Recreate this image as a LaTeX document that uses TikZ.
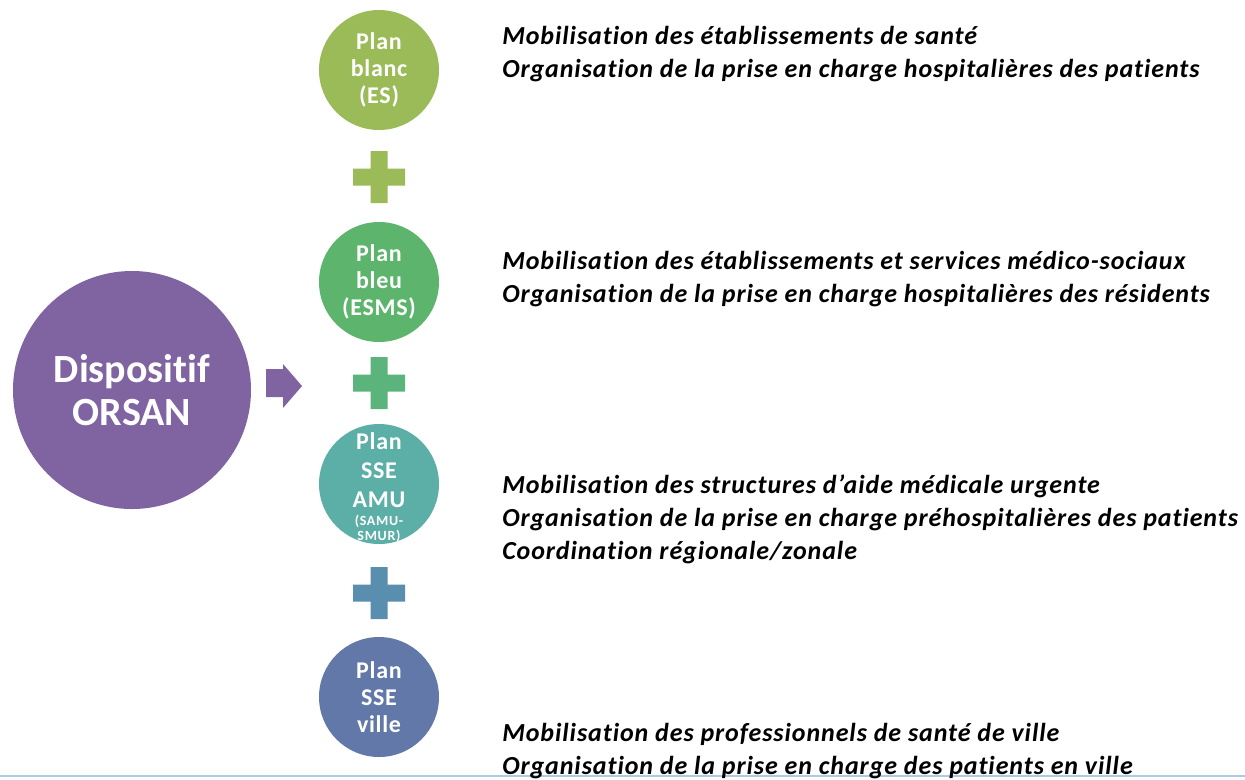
\documentclass[tikz,border=0pt]{standalone}
\usepackage{fontspec}
\setmainfont[Ligatures={NoCommon}]{Carlito}
\newfontfamily\descfont[Ligatures={NoCommon},LetterSpace=3.5]{Carlito}
\newfontfamily\circfont[Ligatures={NoCommon},LetterSpace=3]{Carlito}
\newfontfamily\smallfont[Ligatures={NoCommon},LetterSpace=5]{Carlito}
\definecolor{cblanc}{HTML}{9BBB59}
\definecolor{cbleu}{HTML}{5DB46C}
\definecolor{camu}{HTML}{5CAFA6}
\definecolor{cville}{HTML}{6178A9}
\definecolor{corsan}{HTML}{8064A2}
\definecolor{cplusa}{HTML}{9BBB59}
\definecolor{cplusb}{HTML}{5AB47C}
\definecolor{cplusc}{HTML}{5A8EAE}
\definecolor{cline}{HTML}{AFC8E4}
\tikzset{
  plan/.style={circle,minimum size=90pt,inner sep=0pt,text=white,align=center,
    font=\circfont\fontsize{18}{20.25}\selectfont\bfseries},
  desc/.style={anchor=base west,align=left,inner sep=0pt,
    font=\descfont\fontsize{19.5}{24.75}\selectfont\bfseries\itshape},
}
\newcommand{\plusat}[3]{%
  \fill[#3] (#1-26,#2-8.5) -- (#1-8.5,#2-8.5) -- (#1-8.5,#2-26) -- (#1+8.5,#2-26)
   -- (#1+8.5,#2-8.5) -- (#1+26,#2-8.5) -- (#1+26,#2+8.5) -- (#1+8.5,#2+8.5)
   -- (#1+8.5,#2+26) -- (#1-8.5,#2+26) -- (#1-8.5,#2+8.5) -- (#1-26,#2+8.5) -- cycle;}
\begin{document}
\begin{tikzpicture}[x=0.75pt,y=-0.75pt]
\useasboundingbox (0,0) rectangle (1245,779);
\fill[white] (0,0) rectangle (1245,779);
\draw[cline,line width=1.5pt] (0,776) -- (1245,776);

\node[circle,fill=corsan,minimum size=178.5pt,inner sep=0pt,text=white,align=center,
  font=\fontsize{30}{32}\selectfont\bfseries] (orsan) at (132,390) {Dispositif\\ORSAN};

\fill[corsan] (266,369) -- (283,369) -- (283,364) -- (302,386) -- (283,408) -- (283,397) -- (266,397) -- cycle;

\node[plan,fill=cblanc] (blanc) at (379,70) {Plan\\blanc\\(ES)};
\node[plan,fill=cbleu] (bleu) at (379,282) {Plan\\bleu\\(ESMS)};
\node[plan,fill=camu] (amu) at (379,484) {};
\node[text=white,align=center,inner sep=0pt,font=\circfont\fontsize{18}{21.5}\selectfont\bfseries,anchor=base] (amut) at (379,507) {Plan\\SSE\\AMU};
\node[text=white,align=center,inner sep=0pt,font=\smallfont\fontsize{10.5}{11.25}\selectfont\bfseries,anchor=base] (amus) at (379,540) {(SAMU-\\SMUR)};
\node[plan,fill=cville] (ville) at (379,697) {Plan\\SSE\\ville};

\plusat{379}{177}{cplusa}
\plusat{379}{383}{cplusb}
\plusat{379}{593}{cplusc}

\node[desc] (d1) at (502,77) {Mobilisation des établissements de santé\\Organisation de la prise en charge hospitalières des patients};
\node[desc] (d2) at (502,302) {Mobilisation des établissements et services médico-sociaux\\Organisation de la prise en charge hospitalières des résidents};
\node[desc] (d3) at (502,559) {Mobilisation des structures d’aide médicale urgente\\Organisation de la prise en charge préhospitalières des patients\\Coordination régionale/zonale};
\node[desc] (d4) at (502,774) {Mobilisation des professionnels de santé de ville\\Organisation de la prise en charge des patients en ville};
\end{tikzpicture}
\end{document}
